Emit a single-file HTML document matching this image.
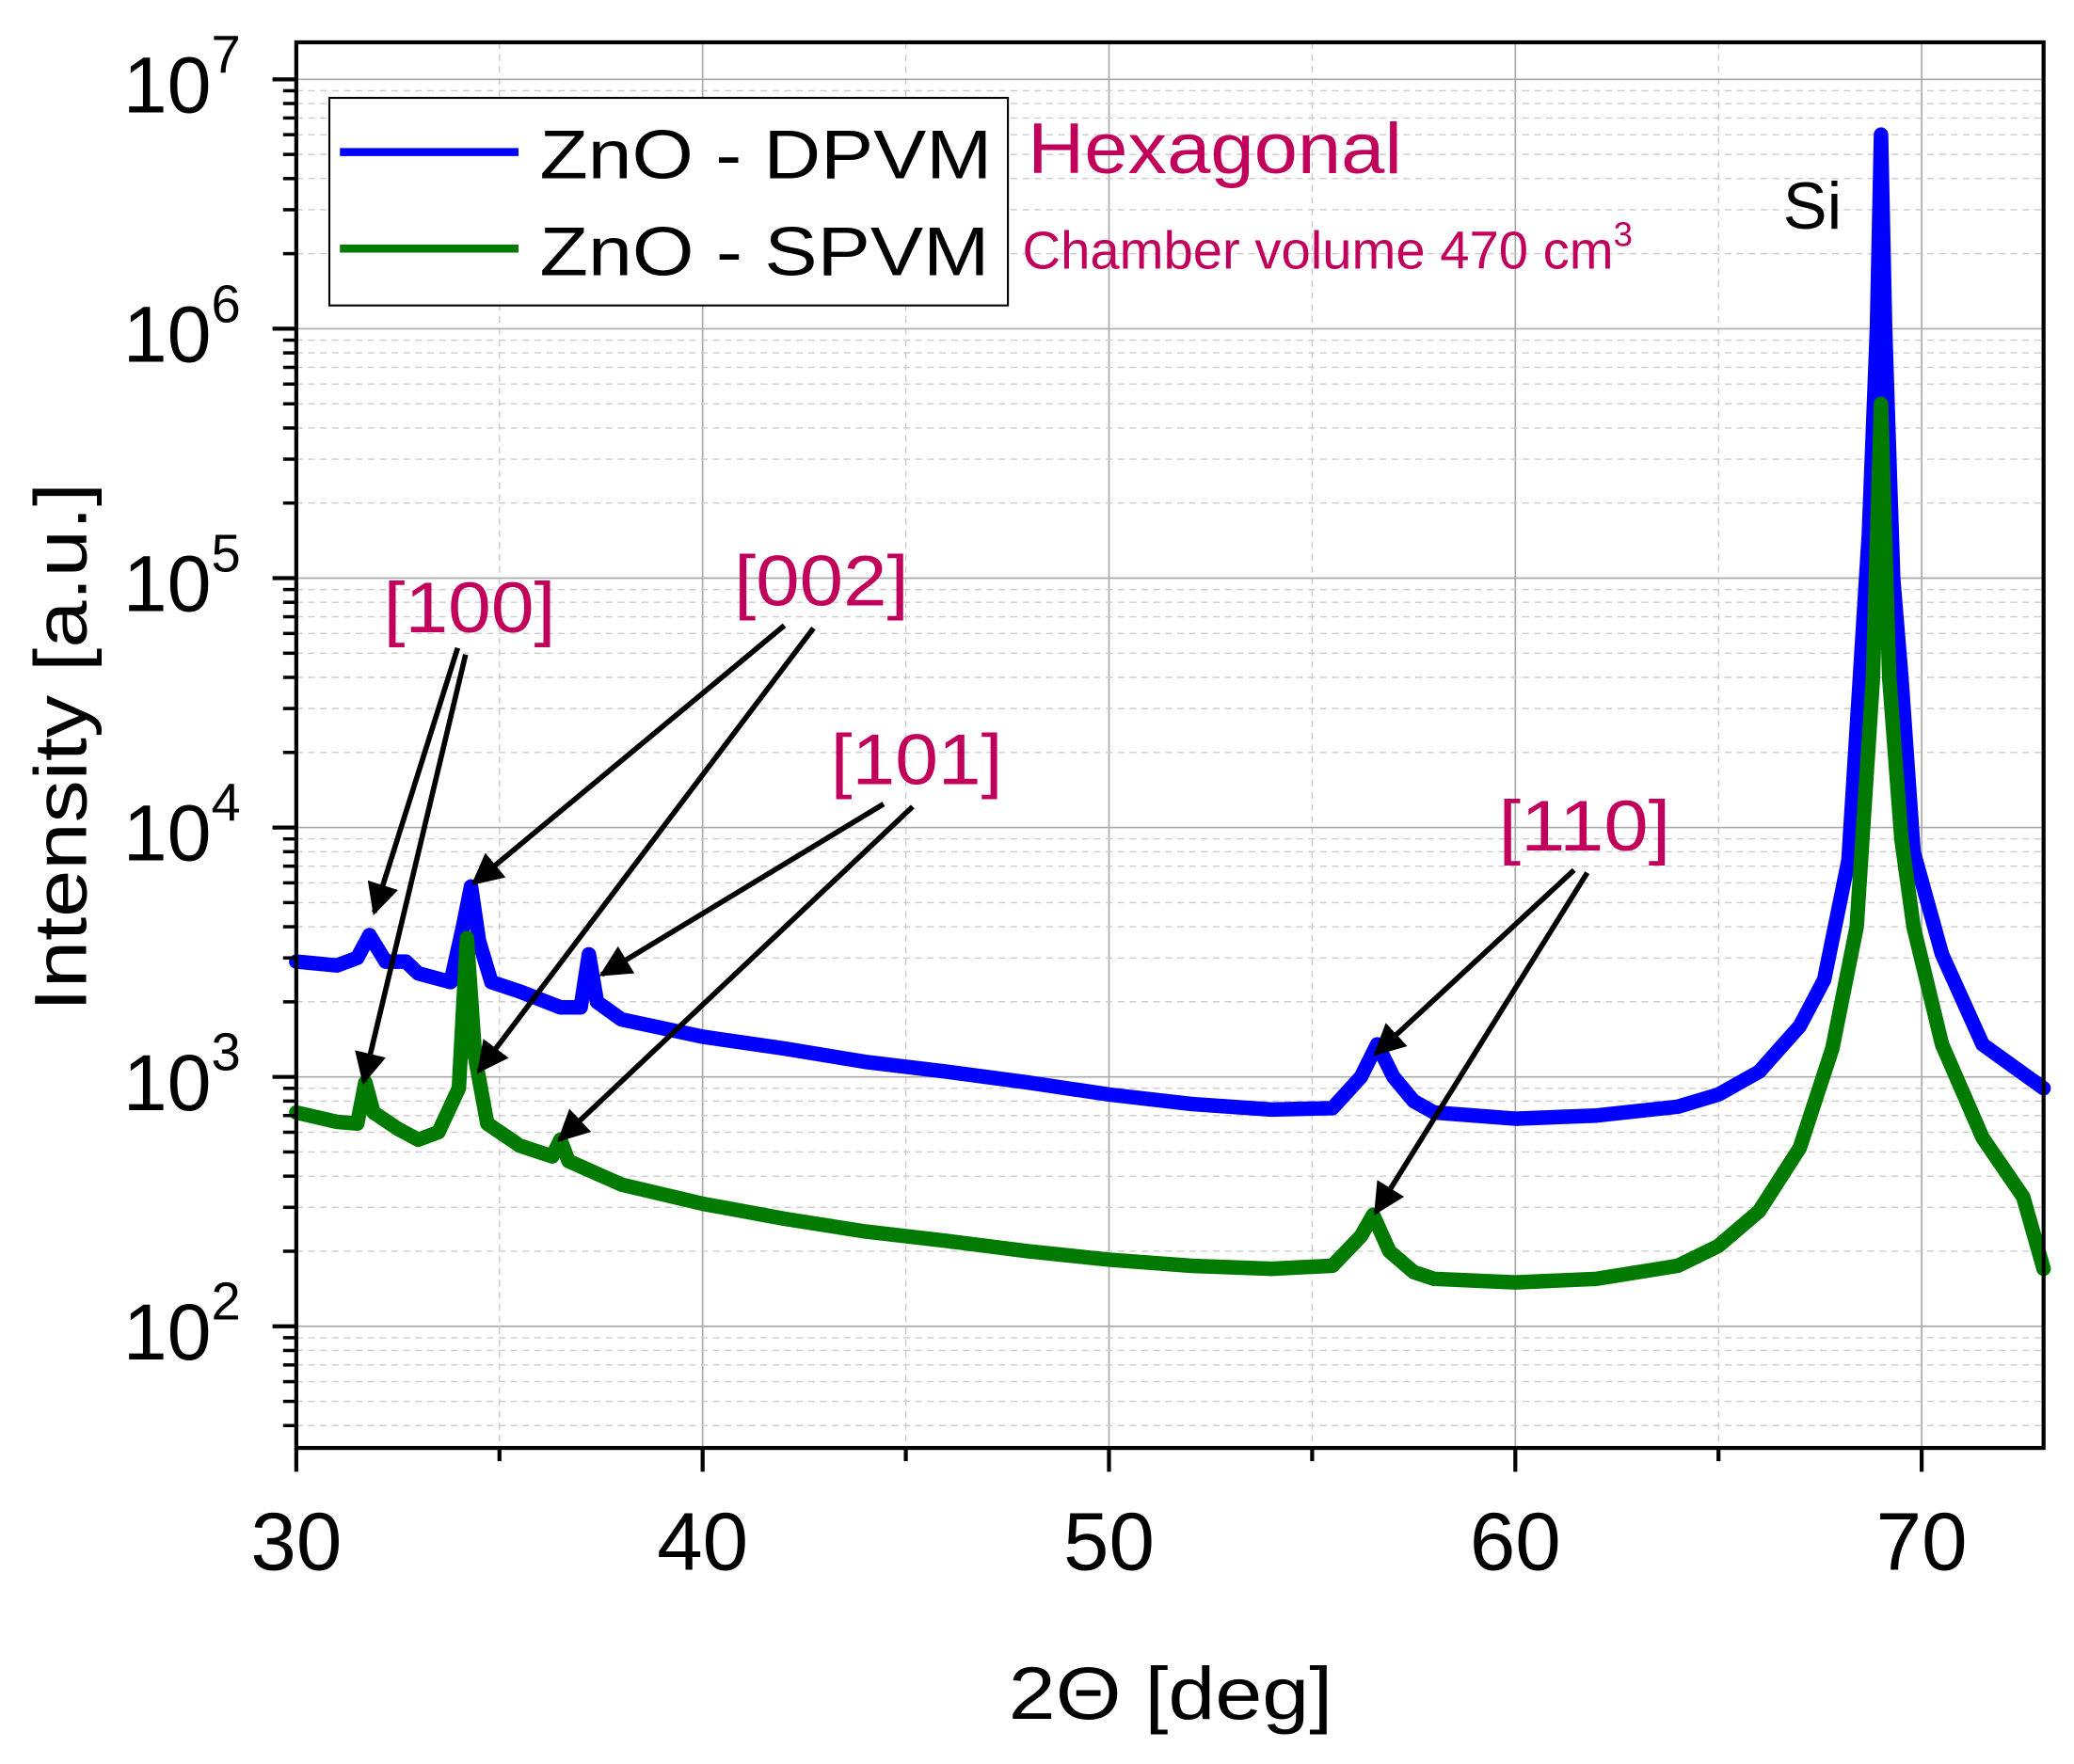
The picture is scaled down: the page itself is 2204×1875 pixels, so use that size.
<!DOCTYPE html>
<html><head><meta charset="utf-8"><style>
html,body{margin:0;padding:0;background:#fff;}
svg{display:block;font-family:"Liberation Sans",Arial,sans-serif;}
</style></head><body>
<svg id="chart" width="2204" height="1875" viewBox="0 0 1568 1334" preserveAspectRatio="none" xmlns="http://www.w3.org/2000/svg">
<defs><marker id="ah" viewBox="0 0 10 10" refX="9" refY="5" markerWidth="6" markerHeight="6" orient="auto"><path d="M0,0 L10,5 L0,10 z" fill="#000"/></marker></defs>
<rect width="1568" height="1334" fill="#fff"/>
<g id="grid"></g>
<g id="series"></g>
<g id="axes"></g>
<g id="legend">
<rect x="249" y="74" width="513" height="157" fill="#fff" stroke="#000" stroke-width="1.5"/>
<line x1="257" y1="115" x2="392" y2="115" stroke="#0000ff" stroke-width="6"/>
<text x="408" y="135" font-size="52" textLength="342" lengthAdjust="spacingAndGlyphs">ZnO - DPVM</text>
<line x1="257" y1="188" x2="392" y2="188" stroke="#007a00" stroke-width="6"/>
<text x="408" y="208" font-size="52" textLength="340" lengthAdjust="spacingAndGlyphs">ZnO - SPVM</text>
</g>
<text x="777" y="131" font-size="54" fill="#c0005a" textLength="283" lengthAdjust="spacingAndGlyphs">Hexagonal</text>
<text x="773" y="203" font-size="40" fill="#c0005a">Chamber volume 470 cm<tspan font-size="26" dy="-17">3</tspan></text>
<text x="1348" y="173" font-size="50">Si</text>
<g font-size="54" fill="#c0005a">
<text x="290" y="478" textLength="130" lengthAdjust="spacingAndGlyphs">[100]</text>
<text x="555" y="458" textLength="132" lengthAdjust="spacingAndGlyphs">[002]</text>
<text x="628" y="593" textLength="130" lengthAdjust="spacingAndGlyphs">[101]</text>
<text x="1133" y="643" textLength="130" lengthAdjust="spacingAndGlyphs">[110]</text>
</g>
<g stroke="#000" stroke-width="4" marker-end="url(#ah)">
<line x1="346" y1="490" x2="283" y2="690"/><line x1="352" y1="495" x2="275" y2="818"/>
<line x1="593" y1="473" x2="358" y2="668"/><line x1="615" y1="475" x2="362" y2="810"/>
<line x1="668" y1="608" x2="455" y2="737"/><line x1="690" y1="610" x2="423" y2="862"/>
<line x1="1190" y1="658" x2="1040" y2="797"/><line x1="1200" y1="660" x2="1040" y2="917"/>
</g>
<text transform="translate(65,565) rotate(-90)" text-anchor="middle" font-size="56" textLength="400" lengthAdjust="spacingAndGlyphs">Intensity [a.u.]</text>
<text x="885" y="1300" text-anchor="middle" font-size="56" textLength="245" lengthAdjust="spacingAndGlyphs">2Θ [deg]</text>
</svg>
<script>
const xTicks=[30,40,50,60,70];
const yDecades=[2,3,4,5,6,7];
const blueX=[30,31,31.5,31.8,32.2,32.7,33,33.8,34.1,34.3,34.5,34.8,35.5,36.5,37,37.2,37.4,38,40,42,44,46,48,50,52,54,55.5,56.2,56.6,57,57.5,58,60,62,64,65,66,67,67.6,68.2,68.7,68.9,69,69.1,69.3,69.5,69.8,70.5,71.5,73];
const blueY=[2900,2800,3000,3700,2900,2900,2600,2400,4000,5800,3500,2400,2200,1900,1900,3100,2000,1700,1450,1300,1150,1050,950,850,780,740,750,1000,1350,1000,800,720,680,700,760,850,1050,1600,2450,7400,150000,1000000,6000000,1000000,100000,40000,8000,3100,1350,900];
const greenX=[30,31,31.5,31.7,31.9,32.5,33,33.5,34,34.2,34.4,34.7,35.5,36.3,36.5,36.7,38,40,42,44,46,48,50,52,54,55.5,56.2,56.5,56.9,57.5,58,60,62,64,65,66,67,67.8,68.4,68.8,69,69.2,69.5,69.8,70.5,71.5,72.5,73];
const greenY=[720,660,650,950,720,620,560,600,900,3600,1200,650,530,480,560,460,370,310,270,240,220,200,185,175,170,175,230,280,200,165,155,150,155,175,210,290,520,1300,4000,40000,500000,40000,9000,4000,1350,570,330,170];
const L=224,R=1545,T=32,B=1095,xmin=30,xmax=73;
const sx=v=>L+(v-xmin)/(xmax-xmin)*(R-L);
const sy=v=>1003-(Math.log10(v)-2)*188.6;
const NS="http://www.w3.org/2000/svg";
function mk(p,tag,attrs){const e=document.createElementNS(NS,tag);for(const k in attrs)e.setAttribute(k,attrs[k]);p.appendChild(e);return e;}
const grid=document.getElementById('grid'),axes=document.getElementById('axes'),ser=document.getElementById('series');
for(let v=35;v<xmax;v+=10){const g=mk(grid,'line',{x1:sx(v),x2:sx(v),y1:T,y2:B,stroke:'#ccc','stroke-dasharray':'5,4','stroke-width':1});

}
xTicks.forEach(v=>{const g=mk(grid,'line',{x1:sx(v),x2:sx(v),y1:T,y2:B,stroke:'#aaa','stroke-width':1.2});


const t=mk(axes,'line',{x1:sx(v),x2:sx(v),y1:B,y2:B+18,stroke:'#000','stroke-width':3});


const l=mk(axes,'text',{x:sx(v),y:1187,'text-anchor':'middle','font-size':62});l.textContent=v;

});
for(let v=35;v<xmax;v+=10){const t=mk(axes,'line',{x1:sx(v),x2:sx(v),y1:B,y2:B+10,stroke:'#000','stroke-width':3});

}
for(let d=1;d<=7;d++){for(let m=1;m<10;m++){const v=m*Math.pow(10,d);const y=sy(v);if(y<T||y>B)continue;
if(m===1){const g=mk(grid,'line',{x1:L,x2:R,y1:y,y2:y,stroke:'#aaa','stroke-width':1.2});


const t=mk(axes,'line',{x1:L-18,x2:L,y1:y,y2:y,stroke:'#000','stroke-width':3});

}
else{const g=mk(grid,'line',{x1:L,x2:R,y1:y,y2:y,stroke:'#ccc','stroke-dasharray':'5,4','stroke-width':1});


const t=mk(axes,'line',{x1:L-10,x2:L,y1:y,y2:y,stroke:'#000','stroke-width':2.5});

}}}
yDecades.forEach(d=>{const y=sy(Math.pow(10,d));const t=mk(axes,'text',{x:93,y:y+25,'font-size':60});
t.appendChild(document.createTextNode('10'));
const s=mk(t,'tspan',{'font-size':40,dy:-30});s.textContent=d;

});
const frame=mk(axes,'rect',{x:L,y:T,width:R-L,height:B-T,fill:'none',stroke:'#000','stroke-width':3});


function path(xs,ys,col,name){const d=xs.map((x,i)=>(i?'L':'M')+sx(x).toFixed(1)+','+sy(ys[i]).toFixed(1)).join(' ');
const p=mk(ser,'path',{d:d,fill:'none',stroke:col,'stroke-width':11,'stroke-linejoin':'round','stroke-linecap':'round'});

}
path(blueX,blueY,'#0000ff','series-dpvm');
path(greenX,greenY,'#007a00','series-spvm');
</script>
</body></html>
